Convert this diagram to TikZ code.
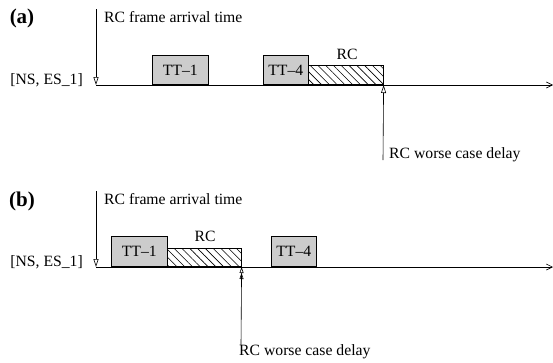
\documentclass[tikz,border=0pt]{standalone}
\usepackage{fontspec}
\setmainfont{Liberation Serif}
\usetikzlibrary{arrows.meta,patterns.meta}
\begin{document}
\begin{tikzpicture}[x=1pt,y=-1pt,
  lbl/.style={font=\fontsize{15.7}{17}\selectfont, inner sep=0pt},
  plabel/.style={font=\fontsize{21}{23}\selectfont\bfseries, inner sep=0pt},
  ttbox/.style={draw=black, fill=black!20, line width=0.6pt, inner sep=0pt, font=\fontsize{15.7}{17}\selectfont},
  rcbox/.style={draw=black, pattern={Lines[angle=-45,distance=5.5pt,line width=0.6pt]}, line width=0.6pt},
  axis/.style={line width=0.6pt, -{Straight Barb[length=6pt,width=6pt]}},
  arrline/.style={line width=0.6pt, -{Triangle[open,length=8pt,width=5pt]}},
  arrline2/.style={line width=0.6pt, -{Triangle[open,length=6pt,width=4pt] Triangle[open,length=6pt,width=4pt]}}
]
\useasboundingbox (0,0) rectangle (553,362);

% ---------- (a) ----------
\node[plabel] (pa) at (22,18) {(a)};
\coordinate (a0) at (96,85);
\coordinate (aEnd) at (553,85);
\coordinate (aTop) at (96,9);
\draw[axis] (a0) -- (aEnd);
\draw[arrline] (aTop) -- (a0);
\node[lbl, anchor=west] (aArr) at (104,17) {RC frame arrival time};
\node[lbl, anchor=east] (aNS) at (83,80) {[NS, ES\_1]};
\node[ttbox, minimum width=56pt, minimum height=29pt, anchor=south west] (aTT1) at (152,85) {TT--1};
\node[ttbox, minimum width=45pt, minimum height=29pt, anchor=south west] (aTT4) at (263,85) {TT--4};
\node[rcbox, minimum width=75pt, minimum height=19pt, anchor=south west, inner sep=0pt] (aRC) at (308,85) {};
\node[lbl] (aRCl) at (347,54) {RC};
\coordinate (aW) at (383,160);
\draw[arrline] (aW) -- (aRC.south east);
\node[lbl, anchor=west] (aWl) at (389,155) {RC worse case delay};

% ---------- (b) ----------
\node[plabel] (pb) at (22,201) {(b)};
\coordinate (b0) at (96,267);
\coordinate (bEnd) at (553,267);
\coordinate (bTop) at (96,191);
\draw[axis] (b0) -- (bEnd);
\draw[arrline] (bTop) -- (b0);
\node[lbl, anchor=west] (bArr) at (104,199) {RC frame arrival time};
\node[lbl, anchor=east] (bNS) at (83,262) {[NS, ES\_1]};
\node[ttbox, minimum width=56pt, minimum height=30pt, anchor=south west] (bTT1) at (111,267) {TT--1};
\node[rcbox, minimum width=74pt, minimum height=18pt, anchor=south west, inner sep=0pt] (bRC) at (167,267) {};
\node[lbl] (bRCl) at (205,236) {RC};
\node[ttbox, minimum width=45pt, minimum height=30pt, anchor=south west] (bTT4) at (271,267) {TT--4};
\coordinate (bW) at (241,345);
\draw[arrline2] (bW) -- (bRC.south east);
\node[lbl, anchor=west] (bWl) at (239,352) {RC worse case delay};
\end{tikzpicture}
\end{document}
